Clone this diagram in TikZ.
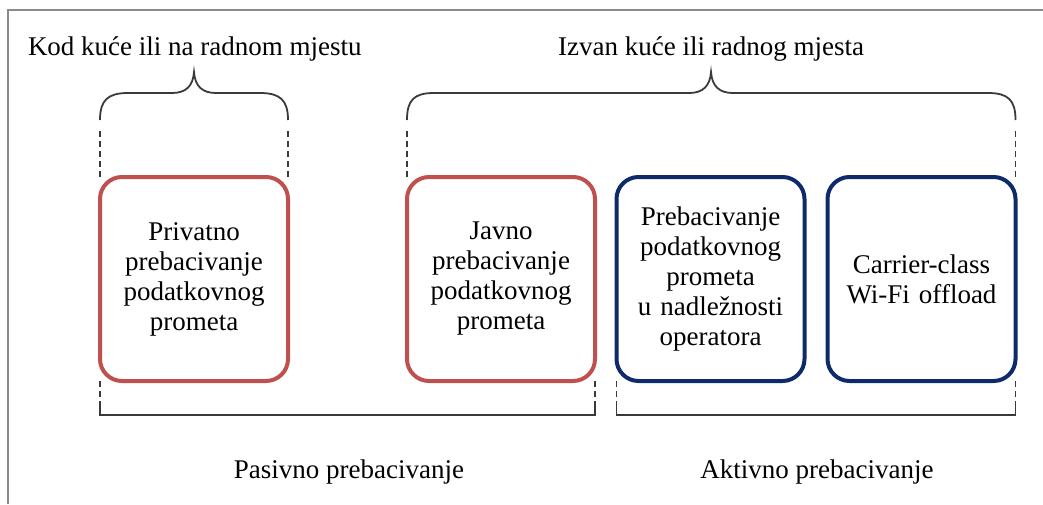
\documentclass[tikz,border=0pt]{standalone}
\usepackage{fontspec}
\setmainfont{Liberation Serif}
\newfontfamily\tnr{Liberation Serif}
\usetikzlibrary{calc}
\definecolor{boxred}{HTML}{C0504D}
\definecolor{boxblue}{HTML}{0F2A6B}
\definecolor{linegray}{HTML}{3A3A3A}
\definecolor{framegray}{HTML}{8A8A8A}
\begin{document}
\begin{tikzpicture}[x=1pt,y=-1pt,
  every node/.style={font=\tnr\fontsize{27pt}{30pt}\selectfont, inner sep=0pt, outer sep=0pt},
  offbox/.style={draw, line width=4pt, rounded corners=22pt, minimum width=188pt, minimum height=204pt, align=center, text width=186pt},
  redbox/.style={offbox, draw=boxred},
  bluebox/.style={offbox, draw=boxblue},
  bracestroke/.style={draw=linegray, line width=1.8pt},
  dashline/.style={draw=linegray, line width=1.5pt, dash pattern=on 6pt off 4pt},
  label/.style={anchor=base, text=black}
]
\useasboundingbox (0,0) rectangle (1043,504);
\draw[framegray, line width=2pt] (8,504) -- (8,10) -- (1043,10);

% boxes
\node[redbox] (b1) at (194,279) {Privatno\\prebacivanje\\podatkovnog\\prometa};
\node[redbox] (b2) at (501,279) {Javno\\prebacivanje\\podatkovnog\\prometa};
\node[bluebox] (b3) at (710.5,279) {Prebacivanje\\podatkovnog\\prometa\\u nadležnosti\\operatora};
\node[bluebox] (b4) at (921.5,279) {Carrier-class\\Wi-Fi offload};

% top labels
\node[anchor=base west] (t1) at (28,55) {Kod kuće ili na radnom mjestu};
\node[label] (t2) at (711,55) {Izvan kuće ili radnog mjesta};

% bottom labels
\node[label] (p1) at (349,478) {Pasivno prebacivanje};
\node[label] (p2) at (817,478) {Aktivno prebacivanje};

% top dashed guides
\foreach \a in {b1.north west, b1.north east, b2.north west, b4.north east}
  \draw[dashline] (\a) -- ++(0,-47);

% top braces
\draw[bracestroke] ($(b1.north west)+(0,-57)$) .. controls ++(0,-20) and (108,93) .. (128,93)
  -- (172,93) .. controls (186,93) and (193,86) .. (194,72)
  .. controls (195,86) and (202,93) .. (216,93)
  -- (260,93) .. controls (280,93) and ($(b1.north east)+(0,-77)$) .. ($(b1.north east)+(0,-57)$);
\draw[bracestroke] ($(b2.north west)+(0,-57)$) .. controls ++(0,-20) and (414,93) .. (434,93)
  -- (689,93) .. controls (703,93) and (710,86) .. (711,72)
  .. controls (712,86) and (719,93) .. (733,93)
  -- (988,93) .. controls (1008,93) and ($(b4.north east)+(0,-77)$) .. ($(b4.north east)+(0,-57)$);

% bottom dashed guides and brackets
\foreach \a in {b1.south west, b2.south east, b3.south west, b4.south east}
  \draw[dashline] (\a) -- ++(0,26);
\draw[bracestroke] ($(b1.south west)+(0,26)$) -- ($(b1.south west)+(0,34)$) -- ($(b2.south east)+(0,34)$) -- ($(b2.south east)+(0,26)$);
\draw[bracestroke] ($(b3.south west)+(0,26)$) -- ($(b3.south west)+(0,34)$) -- ($(b4.south east)+(0,34)$) -- ($(b4.south east)+(0,26)$);
\end{tikzpicture}
\end{document}
